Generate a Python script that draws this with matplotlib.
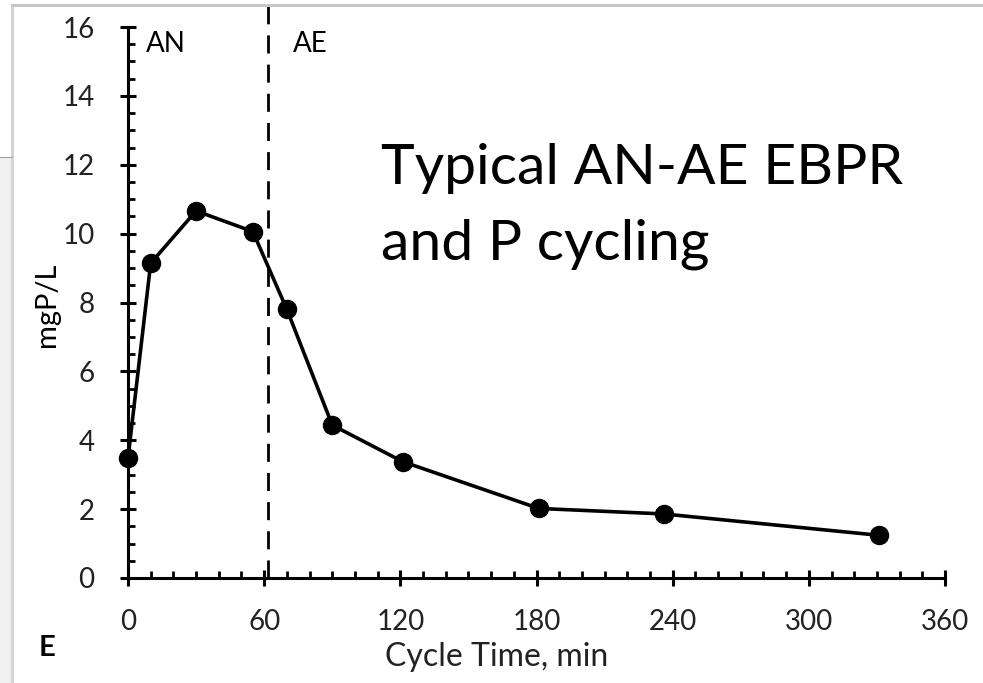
import matplotlib
matplotlib.use("Agg")
import matplotlib.pyplot as plt
from matplotlib.ticker import MultipleLocator
from matplotlib.lines import Line2D
from matplotlib.patches import Rectangle

# data
cycle_time = [0, 10, 30, 55, 70, 90, 121, 181, 236, 331]
mg_p_per_l = [3.48, 9.14, 10.66, 10.06, 7.8, 4.44, 3.38, 2.02, 1.86, 1.24]
phase_switch = 61.5
x_ticks = [0, 60, 120, 180, 240, 300, 360]
y_ticks = [0, 2, 4, 6, 8, 10, 12, 14, 16]

plt.rcParams["font.family"] = ["Lato", "DejaVu Sans"]

W, H = 983, 683
fig = plt.figure(figsize=(W / 100, H / 100), dpi=100)

# screenshot frame remnants
fig.patches.append(Rectangle((0, 0), 12 / W, 1 - 157 / H, transform=fig.transFigure,
                             facecolor="#f0f0f0", edgecolor="none"))
fig.lines.append(Line2D([12 / W, 12 / W], [0, 1 - 5 / H], transform=fig.transFigure,
                        color="#d4d4d4", lw=2.2))
fig.lines.append(Line2D([12 / W, 1], [1 - 5 / H, 1 - 5 / H], transform=fig.transFigure,
                        color="#c8c8c8", lw=2.2))
fig.lines.append(Line2D([0, 12 / W], [1 - 157 / H, 1 - 157 / H], transform=fig.transFigure,
                        color="#a0a0a0", lw=0.8))

ax = fig.add_axes([128 / W, 1 - 578 / H, (945 - 128) / W, (578 - 27) / H])

ax.plot(cycle_time, mg_p_per_l, color="black", lw=2.6, marker="o", ms=13,
        zorder=5, clip_on=False)
ax.plot([phase_switch, phase_switch], [0, 16.65], color="black", lw=2.0,
        linestyle=(0, (6.5, 4)), clip_on=False)

ax.set_xlim(0, 360)
ax.set_ylim(0, 16)
ax.set_xticks(x_ticks)
ax.set_yticks(y_ticks)
ax.xaxis.set_minor_locator(MultipleLocator(10))
ax.yaxis.set_minor_locator(MultipleLocator(0.5))

for side in ["top", "right"]:
    ax.spines[side].set_visible(False)
for side in ["left", "bottom"]:
    ax.spines[side].set_linewidth(2.2)

ax.tick_params(which="major", direction="inout", length=12, width=2.2,
               labelsize=20, colors="black")
ax.tick_params(axis="x", which="major", pad=16)
ax.tick_params(axis="y", which="major", pad=18)
ax.tick_params(which="minor", direction="in", length=5, width=2.0)
for lab in ax.get_xticklabels() + ax.get_yticklabels():
    lab.set_color("#222222")

ax.text(8, 15.5, "AN", fontsize=20, va="center", ha="left")
ax.text(72.5, 15.5, "AE", fontsize=20, va="center", ha="left")
ax.text(111.5, 11.44, "Typical AN-AE EBPR", fontsize=41, va="baseline", ha="left")
ax.text(111.5, 9.26, "and P cycling", fontsize=41, va="baseline", ha="left")

fig.text(497 / W, 1 - 657 / H, "Cycle Time, min", fontsize=23, ha="center",
         va="center", color="#222222")
fig.text(47 / W, 1 - 305 / H, "mgP/L", fontsize=21, ha="center", va="center",
         rotation=90)
fig.text(47 / W, 1 - 648 / H, "E", fontsize=21, fontweight="bold", ha="center",
         va="center")

fig.savefig("out.png", dpi=100)
